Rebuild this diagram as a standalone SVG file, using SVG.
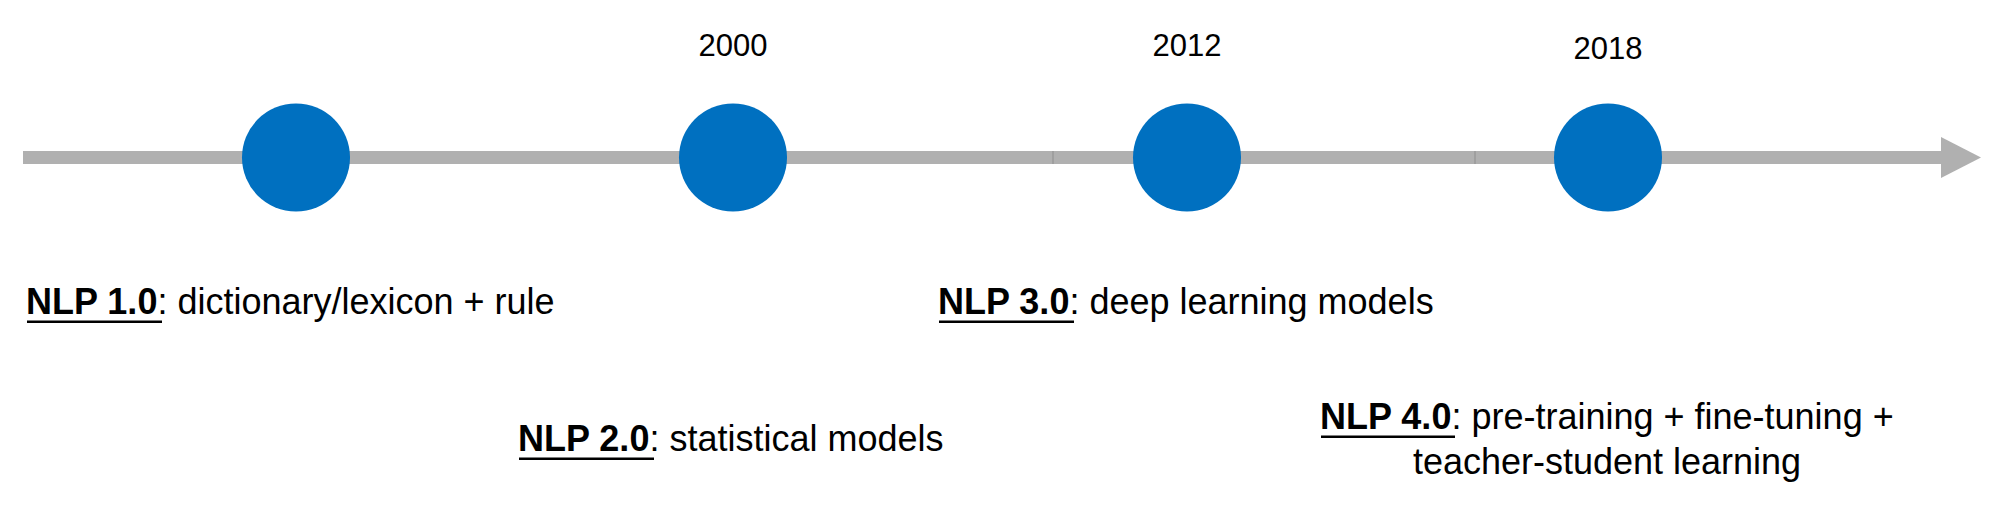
<svg xmlns="http://www.w3.org/2000/svg" width="2000" height="523" viewBox="0 0 2000 523">
<style>
.bar{fill:#B0B0B0}
.sep{stroke:#9A9A9A;stroke-width:1.5}
.dot{fill:#0070C0}
.yr{font-family:"Liberation Sans",Arial,sans-serif;font-size:31px;fill:#000;text-anchor:middle}
.lbl{font-family:"Liberation Sans",Arial,sans-serif;font-size:36px;fill:#000}
.b{font-weight:bold}
.ul{fill:#000}
</style>
<rect width="2000" height="523" fill="#fff"/>
<g id="connectors">
<rect class="bar" x="23" y="151" width="1919" height="13"/>
<polygon class="bar" points="1941,137 1981,157.5 1941,178"/>
<line class="sep" x1="1053" y1="151" x2="1053" y2="164"/>
<line class="sep" x1="1475" y1="151" x2="1475" y2="164"/>
</g>
<g id="node-nlp1">
<circle class="dot" cx="296" cy="157.5" r="54"/>
<text class="lbl" x="26" y="314"><tspan class="b">NLP 1.0</tspan>: dictionary/lexicon + rule</text>
<rect class="ul" x="27" y="320.5" width="135" height="2.5"/>
</g>
<g id="node-nlp2">
<circle class="dot" cx="733" cy="157.5" r="54"/>
<text class="yr" x="733" y="56">2000</text>
<text class="lbl" x="518" y="451"><tspan class="b">NLP 2.0</tspan>: statistical models</text>
<rect class="ul" x="519" y="457.5" width="135" height="2.5"/>
</g>
<g id="node-nlp3">
<circle class="dot" cx="1187" cy="157.5" r="54"/>
<text class="yr" x="1187" y="56">2012</text>
<text class="lbl" x="938" y="314"><tspan class="b">NLP 3.0</tspan>: deep learning models</text>
<rect class="ul" x="939" y="320.5" width="135" height="2.5"/>
</g>
<g id="node-nlp4">
<circle class="dot" cx="1608" cy="157.5" r="54"/>
<text class="yr" x="1608" y="59">2018</text>
<text class="lbl" x="1320" y="429"><tspan class="b">NLP 4.0</tspan>: pre-training + fine-tuning +</text>
<rect class="ul" x="1321" y="435.5" width="134" height="2.5"/>
<text class="lbl" x="1607" y="474" text-anchor="middle">teacher-student learning</text>
</g>
</svg>
